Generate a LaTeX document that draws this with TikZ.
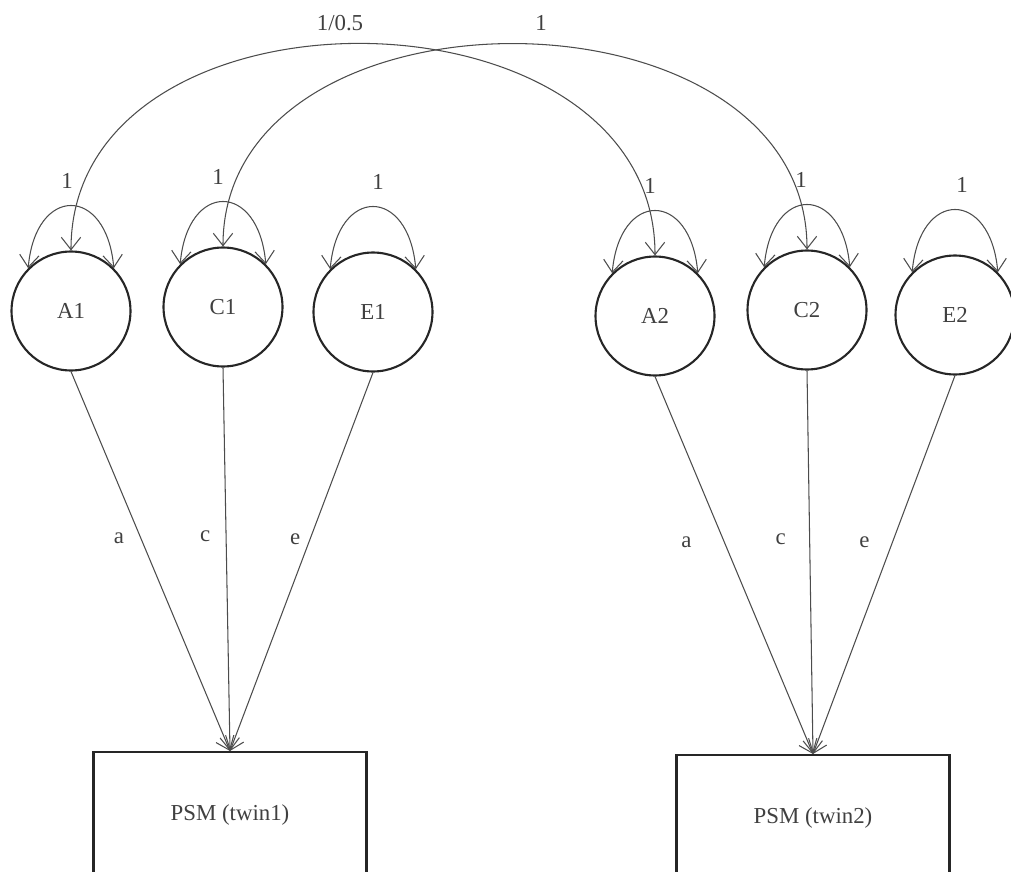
\documentclass[tikz,border=0pt]{standalone}
\usepackage{fontspec}
\setmainfont{Liberation Serif}
\usetikzlibrary{arrows.meta}

\begin{document}
\begin{tikzpicture}[x=0.02cm,y=-0.02cm,
  latent/.style={circle,draw=black!85,line width=1.2pt,minimum size=2.38cm,inner sep=0pt,
    font=\fontsize{13}{15}\selectfont,text=black!75},
  obs/.style={rectangle,draw=black!85,line width=1.2pt,minimum width=5.46cm,minimum height=2.52cm,
    font=\fontsize{13}{15}\selectfont,text=black!75},
  load/.style={draw=black!70,line width=0.6pt,-{Straight Barb[length=7pt,width=11pt]}},
  covar/.style={draw=black!70,line width=0.6pt,
    {Straight Barb[length=7pt,width=11pt]}-{Straight Barb[length=7pt,width=11pt]}},
  lab/.style={font=\fontsize{13}{15}\selectfont,text=black!75}]
  \useasboundingbox (0,0) rectangle (1011,872);
  % 潜变量（双胞胎 1 与 2 的 A、C、E）
  \node[latent] (A1) at (71,311) {A1};
  \node[latent] (C1) at (223,307) {C1};
  \node[latent] (E1) at (373,312) {E1};
  \node[latent] (A2) at (655,316) {A2};
  \node[latent] (C2) at (807,310) {C2};
  \node[latent] (E2) at (955,315) {E2};
  % 观测变量
  \node[obs] (P1) at (230,815) {PSM (twin1)};
  \node[obs] (P2) at (813,818) {PSM (twin2)};
  % 方差自环
  \foreach \v/\dx in {A1/-4,C1/-5,E1/5,A2/-5,C2/-6,E2/7}
    \draw[covar] (\v.135) to[out=85,in=95,looseness=2.5]
      node[midway,above=0.22cm,xshift=\dx*0.02cm,lab]{1} (\v.45);
  % 双胞胎之间的协方差
  \draw[covar] (A1.north) to[out=90,in=90,looseness=1.22]
    node[midway,above=0.14cm,xshift=-0.46cm,lab]{1/0.5} (A2.north);
  \draw[covar] (C1.north) to[out=90,in=90,looseness=1.19]
    node[midway,above=0.14cm,xshift=0.52cm,lab]{1} (C2.north);
  % 因子载荷
  \draw[load] (A1.south) -- node[pos=0.44,xshift=-0.44cm,lab]{a} (P1.north);
  \draw[load] (C1.south) -- node[pos=0.44,xshift=-0.42cm,lab]{c} (P1.north);
  \draw[load] (E1.south) -- node[pos=0.44,xshift=-0.30cm,lab]{e} (P1.north);
  \draw[load] (A2.south) -- node[pos=0.44,xshift=-0.76cm,lab]{a} (P2.north);
  \draw[load] (C2.south) -- node[pos=0.44,xshift=-0.58cm,lab]{c} (P2.north);
  \draw[load] (E2.south) -- node[pos=0.44,xshift=-0.56cm,lab]{e} (P2.north);
\end{tikzpicture}
\end{document}
